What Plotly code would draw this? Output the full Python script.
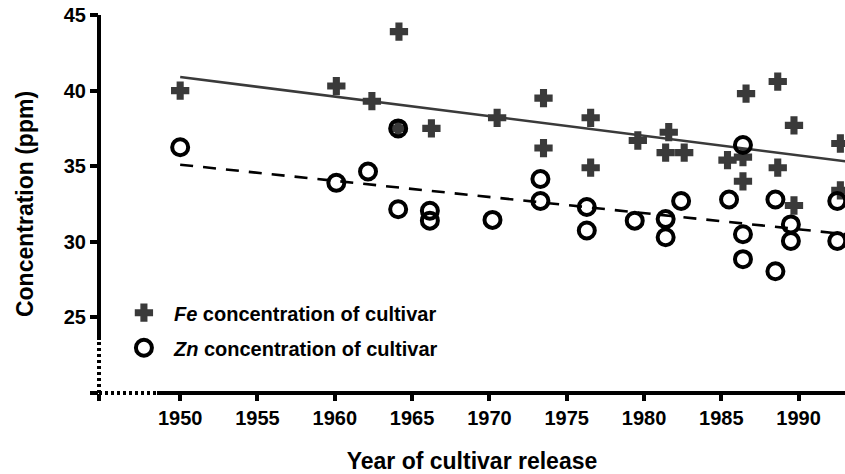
import plotly.graph_objects as go

# Values
fe_years = [1950, 1960.1, 1962.4, 1964.15, 1964.1, 1966.25, 1970.5, 1973.5, 1973.5,
            1976.55, 1976.55, 1979.6, 1981.6, 1981.4, 1982.6, 1985.4, 1986.4, 1986.6,
            1986.4, 1988.65, 1989.7, 1988.65, 1989.7, 1992.7, 1992.7]
fe_vals = [40.0, 40.3, 39.3, 43.9, 37.5, 37.5, 38.2, 39.5, 36.2,
           38.2, 34.9, 36.7, 37.25, 35.9, 35.9, 35.4, 35.6, 39.8,
           34.0, 40.6, 37.7, 34.9, 32.4, 36.5, 33.4]

zn_years = [1950, 1960.1, 1962.15, 1964.1, 1964.1, 1966.15, 1966.15, 1970.2, 1973.3,
            1973.3, 1976.3, 1976.3, 1979.4, 1981.4, 1981.4, 1982.4, 1985.5, 1986.4,
            1986.4, 1986.4, 1988.5, 1988.5, 1989.5, 1989.5, 1992.5, 1992.5]
zn_vals = [36.25, 33.9, 34.65, 37.5, 32.15, 32.05, 31.4, 31.45, 34.15,
           32.7, 32.3, 30.75, 31.4, 31.5, 30.3, 32.7, 32.8, 36.4,
           30.5, 28.85, 32.8, 28.05, 31.15, 30.05, 32.7, 30.05]

# regression lines (end points)
fit_years = [1950, 1994]
fe_fit = [40.9, 35.2]
zn_fit = [35.1, 30.4]

x_range = [1944.75, 1993.0]
y_range = [20, 45]
x_break = 1948.5
y_break = 23.5
x_ticks = [x_range[0], 1950, 1955, 1960, 1965, 1970, 1975, 1980, 1985, 1990]
x_ticktext = [''] + [str(v) for v in x_ticks[1:]]
y_ticks = [20, 25, 30, 35, 40, 45]
y_ticktext = [''] + [str(v) for v in y_ticks[1:]]

FONT = "Liberation Sans, Arial, sans-serif"
FE_COL = '#3a3a3a'

fig = go.Figure()
fig.add_trace(go.Scatter(x=fit_years, y=fe_fit, mode='lines', showlegend=False,
                         line=dict(color=FE_COL, width=2.6), hoverinfo='skip'))
fig.add_trace(go.Scatter(x=fit_years, y=zn_fit, mode='lines', showlegend=False,
                         line=dict(color='black', width=2.6, dash='13px,10px'), hoverinfo='skip'))
fig.add_trace(go.Scatter(x=fe_years, y=fe_vals, mode='markers', legendgroup='fe',
                         name='<i>Fe</i> concentration of cultivar',
                         marker=dict(symbol='cross', size=14, color=FE_COL,
                                     line=dict(color=FE_COL, width=1.5))))
fig.add_trace(go.Scatter(x=zn_years, y=zn_vals, mode='markers', legendgroup='zn',
                         name='<i>Zn</i> concentration of cultivar',
                         marker=dict(symbol='circle-open', size=16, color='black',
                                     line=dict(width=4))))

# broken axes: solid part + dotted part
fig.add_shape(type='line', xref='paper', yref='y', x0=0, x1=0, y0=y_break, y1=y_range[1],
              line=dict(color='black', width=4))
fig.add_shape(type='line', xref='paper', yref='y', x0=0, x1=0, y0=y_range[0], y1=y_break,
              line=dict(color='black', width=4, dash='3px,3px'))
fig.add_shape(type='line', xref='x', yref='paper', x0=x_break, x1=x_range[1], y0=0, y1=0,
              line=dict(color='black', width=4))
fig.add_shape(type='line', xref='x', yref='paper', x0=x_range[0], x1=x_break, y0=0, y1=0,
              line=dict(color='black', width=4, dash='3px,3px'))

fig.update_layout(
    width=845, height=474,
    margin=dict(l=99, r=0, t=15, b=81),
    plot_bgcolor='white', paper_bgcolor='white',
    font=dict(family=FONT, color='black', size=20),
    showlegend=True,
    legend=dict(x=0.02, y=0.264, xanchor='left', yanchor='top', bgcolor='rgba(0,0,0,0)',
                font=dict(family=FONT, size=20, weight='bold'),
                itemwidth=50, tracegroupgap=6),
)
fig.update_xaxes(range=x_range, showgrid=False, zeroline=False, showline=False,
                 tickvals=x_ticks, ticktext=x_ticktext, ticks='outside', ticklen=7,
                 tickwidth=4, tickcolor='black', ticklabeloverflow='allow',
                 tickfont=dict(family=FONT, size=20, weight='bold'),
                 title=dict(text='Year of cultivar release', standoff=27,
                            font=dict(family=FONT, size=23, weight='bold')),
                 automargin=False)
fig.update_yaxes(range=y_range, showgrid=False, zeroline=False, showline=False,
                 tickvals=y_ticks, ticktext=y_ticktext, ticks='outside', ticklen=8,
                 tickwidth=4, tickcolor='black', ticklabeloverflow='allow',
                 tickfont=dict(family=FONT, size=20, weight='bold'),
                 title=dict(text='Concentration (ppm)', standoff=23,
                            font=dict(family=FONT, size=23, weight='bold')),
                 automargin=False)

# page body has a default 8px margin; drop it so the figure fills the window
fig.write_html("out.html", config={'displayModeBar': False},
               post_script="document.body.style.margin='0';")
